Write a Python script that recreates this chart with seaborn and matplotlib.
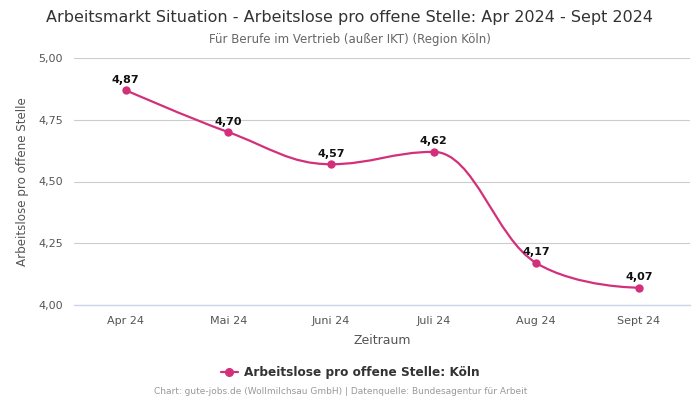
import numpy as np
import pandas as pd
import matplotlib
matplotlib.use("Agg")
import matplotlib.pyplot as plt
from matplotlib.path import Path
from matplotlib.patches import PathPatch
from matplotlib.lines import Line2D
import seaborn as sns

months = ["Apr 24", "Mai 24", "Juni 24", "Juli 24", "Aug 24", "Sept 24"]
values = [4.87, 4.70, 4.57, 4.62, 4.17, 4.07]
y_ticks = [4.00, 4.25, 4.50, 4.75, 5.00]
series_name = "Arbeitslose pro offene Stelle: Köln"

COLOR = "#d3307b"

sns.set_theme(style="white")
plt.rcParams["font.family"] = ["DejaVu Sans"]

df = pd.DataFrame({"Zeitraum": months, "Wert": values})
df["pos"] = range(len(df))

fig = plt.figure(figsize=(7, 4), dpi=100)
ax = fig.add_axes([0.106, 0.2375, 0.88, 0.6175])


def spline_path(xs, ys, smoothing=1.5):
    denom = smoothing + 1
    verts = [(xs[0], ys[0])]
    codes = [Path.MOVETO]
    ctrl = []
    n = len(xs)
    for i in range(n):
        if i == 0 or i == n - 1:
            ctrl.append(((xs[i], ys[i]), (xs[i], ys[i])))
            continue
        lx, ly = xs[i - 1], ys[i - 1]
        nx, ny = xs[i + 1], ys[i + 1]
        px, py = xs[i], ys[i]
        lcx = (smoothing * px + lx) / denom
        lcy = (smoothing * py + ly) / denom
        rcx = (smoothing * px + nx) / denom
        rcy = (smoothing * py + ny) / denom
        corr = ((rcy - lcy) * (rcx - px)) / (rcx - lcx) + py - rcy
        lcy += corr
        rcy += corr
        if lcy > max(ly, py):
            lcy = max(ly, py)
            rcy = 2 * py - lcy
        elif lcy < min(ly, py):
            lcy = min(ly, py)
            rcy = 2 * py - lcy
        if rcy > max(py, ny):
            rcy = max(py, ny)
            lcy = 2 * py - rcy
        elif rcy < min(py, ny):
            rcy = min(py, ny)
            lcy = 2 * py - rcy
        ctrl.append(((lcx, lcy), (rcx, rcy)))
    for i in range(1, n):
        c1 = ctrl[i - 1][1]
        c2 = ctrl[i][0]
        verts += [c1, c2, (xs[i], ys[i])]
        codes += [Path.CURVE4] * 3
    return Path(verts, codes)


path = spline_path(list(df["pos"].astype(float)), list(df["Wert"]))
ax.add_patch(PathPatch(path, facecolor="none", edgecolor=COLOR, lw=1.6, zorder=3))

sns.scatterplot(data=df, x="pos", y="Wert", ax=ax, color=COLOR, s=36,
                edgecolor=COLOR, linewidth=0, zorder=4, legend=False)

for x, y in zip(df["pos"], df["Wert"]):
    ax.annotate(f"{y:.2f}".replace(".", ","), (x, y), xytext=(0, 4),
                textcoords="offset points", ha="center", va="bottom",
                fontsize=8, fontweight="bold", color="#111111", zorder=5)

ax.set_xlim(-0.5, len(months) - 0.5)
ax.set_ylim(4.0, 5.0)
ax.set_xticks(range(len(months)))
ax.set_xticklabels(months)
ax.set_yticks(y_ticks)
ax.set_yticklabels([f"{t:.2f}".replace(".", ",") for t in y_ticks])
ax.tick_params(axis="both", labelsize=8, colors="#555555", length=0, pad=8)
ax.yaxis.grid(True, color="#cccccc", lw=0.8)
ax.xaxis.grid(False)
for s in ["top", "right", "left"]:
    ax.spines[s].set_visible(False)
ax.spines["bottom"].set_color("#ccd6eb")
ax.spines["bottom"].set_linewidth(1)
ax.set_axisbelow(True)

ax.set_xlabel("Zeitraum", fontsize=9, color="#555555", labelpad=6)
ax.set_ylabel("Arbeitslose pro offene Stelle", fontsize=8.6, color="#555555", labelpad=7)

fig.text(0.5, 0.957, "Arbeitsmarkt Situation - Arbeitslose pro offene Stelle: Apr 2024 - Sept 2024",
         ha="center", va="center", fontsize=11.5, color="#333333")
fig.text(0.5, 0.902, "Für Berufe im Vertrieb (außer IKT) (Region Köln)",
         ha="center", va="center", fontsize=8.5, color="#666666")

handle = Line2D([0], [0], color=COLOR, lw=1.6, marker="o", markersize=5.5)
leg = fig.legend([handle], [series_name], loc="center", bbox_to_anchor=(0.5, 0.068),
                 frameon=False, handlelength=1.4, handletextpad=0.5,
                 prop={"size": 8.7, "weight": "bold"})
for t in leg.get_texts():
    t.set_color("#333333")

fig.text(0.486, 0.02, "Chart: gute-jobs.de (Wollmilchsau GmbH) | Datenquelle: Bundesagentur für Arbeit",
         ha="center", va="center", fontsize=6.5, color="#999999")

fig.savefig("out.png", dpi=100)
